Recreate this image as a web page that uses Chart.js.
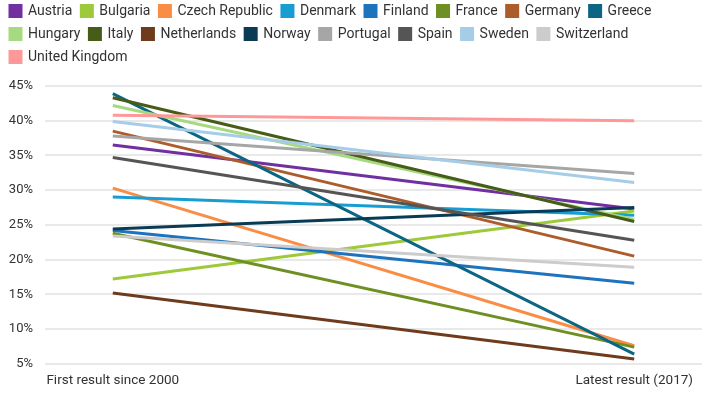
<!DOCTYPE html>
<html>
<head>
<meta charset="utf-8">
<script src="https://cdn.jsdelivr.net/npm/chart.js@4"></script>
<style>
  html, body { margin: 0; padding: 0; background: #fff; }
  #chart { display: block; }
</style>
</head>
<body>
<canvas id="chart" width="717" height="398"></canvas>
<script>
'use strict';

/* ── data ── */
const countries = ['Austria', 'Bulgaria', 'Czech Republic', 'Denmark', 'Finland', 'France',
  'Germany', 'Greece', 'Hungary', 'Italy', 'Netherlands', 'Norway', 'Portugal', 'Spain',
  'Sweden', 'Switzerland', 'United Kingdom'];
const firstResult  = [36.5, 17.2, 30.3, 29.0, 24.2, 23.8, 38.5, 43.9, 42.2, 43.3, 15.2, 24.4, 37.8, 34.7, 39.9, 23.4, 40.8];
const latestResult = [27.3, 27.0,  7.6, 26.4, 16.6,  7.4, 20.5,  6.4, 25.8, 25.5,  5.7, 27.5, 32.4, 22.8, 31.1, 18.9, 40.0];
const colors = ['#7030a0', '#9dc93a', '#f98d45', '#189dd3', '#1d74bd', '#6e8f22',
  '#ad5d2c', '#0d6584', '#a6da80', '#465c17', '#6e3b1c', '#0a3b55', '#a6a6a6', '#555555',
  '#a5cde8', '#cccccc', '#ff9999'];
const xLabels = ['First result since 2000', 'Latest result (2017)'];
const yTicks  = [5, 10, 15, 20, 25, 30, 35, 40, 45];

const FONT = "Roboto, 'Noto Sans', sans-serif";
const TEXT = '#333333';

/* legend gets a fixed height so the plot starts at the right place */
const legendHeight = {
  id: 'legendHeight',
  beforeInit(chart) {
    const fit = chart.legend.fit;
    chart.legend.fit = function () {
      fit.bind(chart.legend)();
      this.height = 91;
    };
  }
};

const datasets = countries.map((name, i) => ({
  label: name,
  data: [{ x: 0, y: firstResult[i] }, { x: 1, y: latestResult[i] }],
  borderColor: colors[i],
  backgroundColor: colors[i],
  borderWidth: 3,
  pointRadius: 0,
  tension: 0,
  order: -i
}));

new Chart(document.getElementById('chart'), {
  type: 'line',
  data: { datasets },
  plugins: [legendHeight],
  options: {
    responsive: false,
    animation: false,
    layout: { padding: { left: 1, right: 15, top: -5, bottom: 0 } },
    plugins: {
      tooltip: { enabled: false },
      legend: {
        position: 'top',
        align: 'start',
        labels: {
          boxWidth: 11,
          boxHeight: 11,
          padding: 9,
          color: TEXT,
          font: { family: FONT, size: 14 },
          sort: (a, b) => a.datasetIndex - b.datasetIndex
        }
      }
    },
    scales: {
      x: {
        type: 'linear',
        min: -0.13,
        max: 1.13,
        afterBuildTicks: (axis) => { axis.ticks = xLabels.map((_, i) => ({ value: i })); },
        grid: { display: false, drawTicks: false },
        border: { display: false },
        ticks: {
          padding: 9,
          color: TEXT,
          font: { family: FONT, size: 13.5 },
          maxRotation: 0,
          callback: (v) => xLabels[v]
        }
      },
      y: {
        min: yTicks[0],
        max: yTicks[yTicks.length - 1],
        afterBuildTicks: (axis) => { axis.ticks = yTicks.map(v => ({ value: v })); },
        afterFit: (axis) => { axis.width = 44; },
        grid: { color: '#e9e9e9', lineWidth: 2, drawTicks: false },
        border: { display: false },
        ticks: {
          padding: 12,
          color: TEXT,
          font: { family: FONT, size: 13 },
          callback: (v) => v + '%'
        }
      }
    }
  }
});
</script>
</body>
</html>
